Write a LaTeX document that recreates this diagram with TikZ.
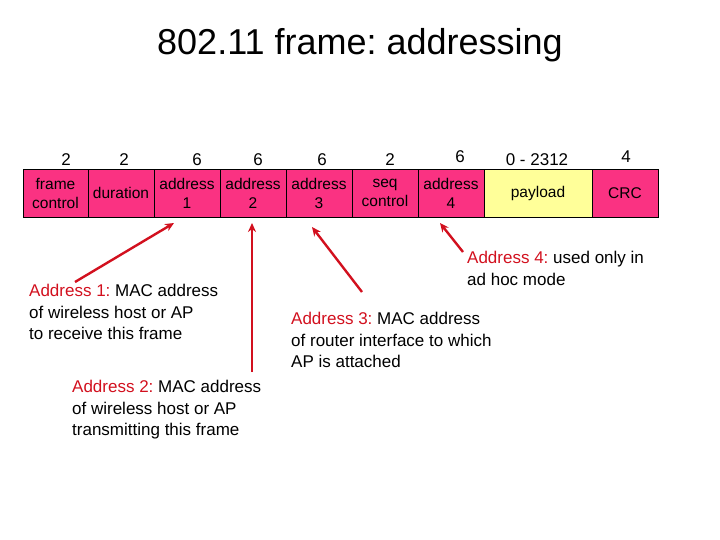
\documentclass[tikz,border=0pt]{standalone}
\usepackage{fontspec}
\setmainfont{Liberation Sans}
\usetikzlibrary{arrows.meta,positioning,calc}
\definecolor{fieldpink}{RGB}{250,50,130}
\definecolor{fieldyellow}{RGB}{255,255,153}
\definecolor{notered}{RGB}{210,16,30}
\frenchspacing

\begin{document}
\begin{tikzpicture}[
    x=1pt, y=-1pt,
    field/.style={draw, fill=fieldpink, minimum width=66pt, minimum height=48pt, inner sep=0pt, outer sep=0pt, align=center, font=\fontsize{15.5}{19}\selectfont, line width=0.8pt},
    size/.style={font=\fontsize{17}{20}\selectfont, inner sep=0pt},
    note/.style={anchor=north west, align=left, inner sep=0pt, font=\fontsize{17}{21.5}\selectfont},
    arrow/.style={-{Stealth[length=9pt,width=8pt]}, line width=2.4pt, draw=notered, fill=notered},
    node distance=0pt
]
\useasboundingbox (0,0) rectangle (720,540);

\node[font=\fontsize{36}{40}\selectfont] (title) at (360,45) {802.11 frame: addressing};

% frame fields
\node[field, minimum width=65pt, anchor=north west] (fc) at (23,169) {frame\\control};
\node[field, right=of fc] (dur) {duration};
\node[field, right=of dur] (a1) {address\\1};
\node[field, right=of a1] (a2) {address\\2};
\node[field, right=of a2] (a3) {address\\3};
\node[field, right=of a3] (seq) {seq\\control};
\node[field, right=of seq] (a4) {address\\4};
\node[field, right=of a4, minimum width=108pt, fill=fieldyellow] (pay) {payload};
\node[field, right=of pay] (crc) {CRC};

% field sizes in bytes
\node[size] (n1) at (66,160) {2};
\node[size] (n2) at (124,160) {2};
\node[size] (n3) at (197,160) {6};
\node[size] (n4) at (258,160) {6};
\node[size] (n5) at (322,160) {6};
\node[size] (n6) at (390,160) {2};
\node[size] (n7) at (460,157) {6};
\node[size] (n8) at (537,160) {0 - 2312};
\node[size] (n9) at (626,157) {4};

% notes
\node[note] (t1) at (29,284) {\textcolor{notered}{Address 1:} MAC address\\of wireless host or AP\\to receive this frame};
\node[note] (t2) at (72,380) {\textcolor{notered}{Address 2:} MAC address\\of wireless host or AP\\transmitting this frame};
\node[note] (t3) at (291,312) {\textcolor{notered}{Address 3:} MAC address\\of router interface to which\\AP is attached};
\node[note] (t4) at (467,251) {\textcolor{notered}{Address 4:} used only in\\ad hoc mode};

\draw[arrow] ([xshift=46pt,yshift=2pt]t1.north west) -- ([xshift=-13pt,yshift=-6pt]a1.south);
\draw[arrow] ([xshift=180pt,yshift=8pt]t2.north west) -- ([xshift=-1pt,yshift=-6pt]a2.south);
\draw[arrow] ([xshift=71pt,yshift=20pt]t3.north west) -- ([xshift=-7pt,yshift=-10pt]a3.south);
\draw[arrow] ([xshift=-4pt,yshift=-1pt]t4.north west) -- ([xshift=-11pt,yshift=-6pt]a4.south);
\end{tikzpicture}
\end{document}
